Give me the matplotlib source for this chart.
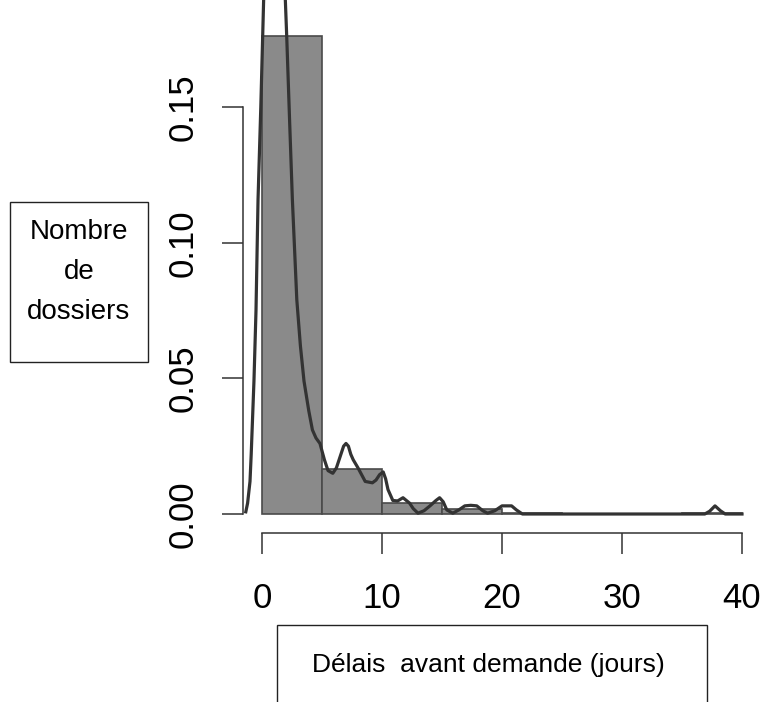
from matplotlib import pyplot as plt
from matplotlib.patches import Rectangle
import numpy as np

# Histogramme des délais (densité), classes de 5 jours
bords = [0, 5, 10, 15, 20, 25, 30, 35, 40]
densite = [0.1762, 0.0166, 0.0040, 0.0018, 0.0003, 0.0, 0.0, 0.0003]

# Courbe de densité
kx = [-1.35, -1.2, -1.0, -0.9, -0.67, -0.5, -0.33, -0.1, 0.14, 0.4, 0.7, 1.0,
      1.4, 1.7, 1.94, 2.06, 2.3, 2.53, 2.9, 3.2, 3.5, 3.9, 4.2, 4.5, 4.83,
      5.2, 5.5, 5.9, 6.2, 6.5, 6.8, 7.0, 7.2, 7.4, 7.6, 8.0, 8.6, 9.2, 9.5,
      9.8, 10.1, 10.3, 10.5, 10.9, 11.3, 11.75, 12.3, 12.6, 13.0, 13.5,
      14.0, 14.5, 14.8, 15.1, 15.4, 15.9, 16.4, 16.9, 17.4, 17.9, 18.4,
      18.8, 19.4, 20.0, 20.8, 21.2, 21.7, 25.0, 30.0, 36.9, 37.3, 37.75,
      38.2, 38.6, 40.0]
ky = [0.0008, 0.004, 0.012, 0.022, 0.049, 0.075, 0.116, 0.150, 0.190, 0.225,
      0.250, 0.260, 0.245, 0.215, 0.190, 0.176, 0.145, 0.116, 0.079, 0.062,
      0.049, 0.038, 0.031, 0.028, 0.026, 0.020, 0.016, 0.015, 0.017, 0.021,
      0.025, 0.026, 0.025, 0.022, 0.020, 0.017, 0.012, 0.0115, 0.0125,
      0.0145, 0.0155, 0.013, 0.009, 0.005, 0.0048, 0.006, 0.004, 0.002,
      0.0003, 0.0012, 0.003, 0.005, 0.006, 0.0045, 0.0015, 0.0003, 0.0015,
      0.003, 0.0032, 0.003, 0.0012, 0.0003, 0.0012, 0.003, 0.003, 0.0015,
      0.0, 0.0, 0.0, 0.0, 0.001, 0.003, 0.0012, 0.0, 0.0]

police = ['Liberation Sans', 'DejaVu Sans']

W, H = 760, 702
fig = plt.figure(figsize=(W / 100, H / 100), dpi=100)

# position de l'axe en pixels : x de 243 à 760, y de 0 à 533 (depuis le haut)
ax = fig.add_axes([243 / W, (H - 533) / H, (760 - 243) / W, 533 / H])

largeurs = np.diff(bords)
ax.bar(bords[:-1], densite, width=largeurs, align='edge',
       color='#8a8a8a', edgecolor='#4a4a4a', linewidth=1.2)
ax.plot(kx, ky, color='#333333', linewidth=2.3, solid_joinstyle='round')

ax.set_xlim(-19 / 12, (760 - 262) / 12)
ax.set_ylim(-19 / 2713, 514 / 2713)

# axes façon R
for c in ['top', 'right']:
    ax.spines[c].set_visible(False)
ax.spines['left'].set_bounds(0, 0.15)
ax.spines['bottom'].set_bounds(0, 40)
for c in ['left', 'bottom']:
    ax.spines[c].set_color('#333333')
    ax.spines[c].set_linewidth(1.1)

ax.set_xticks([0, 10, 20, 30, 40])
ax.set_yticks([0.00, 0.05, 0.10, 0.15])
ax.set_yticklabels(['0.00', '0.05', '0.10', '0.15'], rotation=90, va='center')
ax.tick_params(axis='both', length=15, width=1.1, color='#333333',
               labelsize=25, pad=16)
ax.tick_params(axis='x', pad=20)
for lab in ax.get_xticklabels() + ax.get_yticklabels():
    lab.set_family(police)

# étiquettes dans des cadres
fig.patches.append(Rectangle((10 / W, 1 - 362 / H), 138 / W, 160 / H,
                             transform=fig.transFigure, fill=False,
                             edgecolor='#222222', linewidth=1.0))
fig.text(79 / W, 1 - 272 / H, 'Nombre\nde\ndossiers', ha='center',
         va='center', fontsize=20, family=police, linespacing=1.7)

fig.patches.append(Rectangle((277 / W, 1 - 720 / H), 430 / W, 95 / H,
                             transform=fig.transFigure, fill=False,
                             edgecolor='#222222', linewidth=1.0))
fig.text(488 / W, 1 - 665 / H, 'Délais  avant demande (jours)', ha='center',
         va='center', fontsize=19, family=police)

plt.savefig('out.png', dpi=100)
